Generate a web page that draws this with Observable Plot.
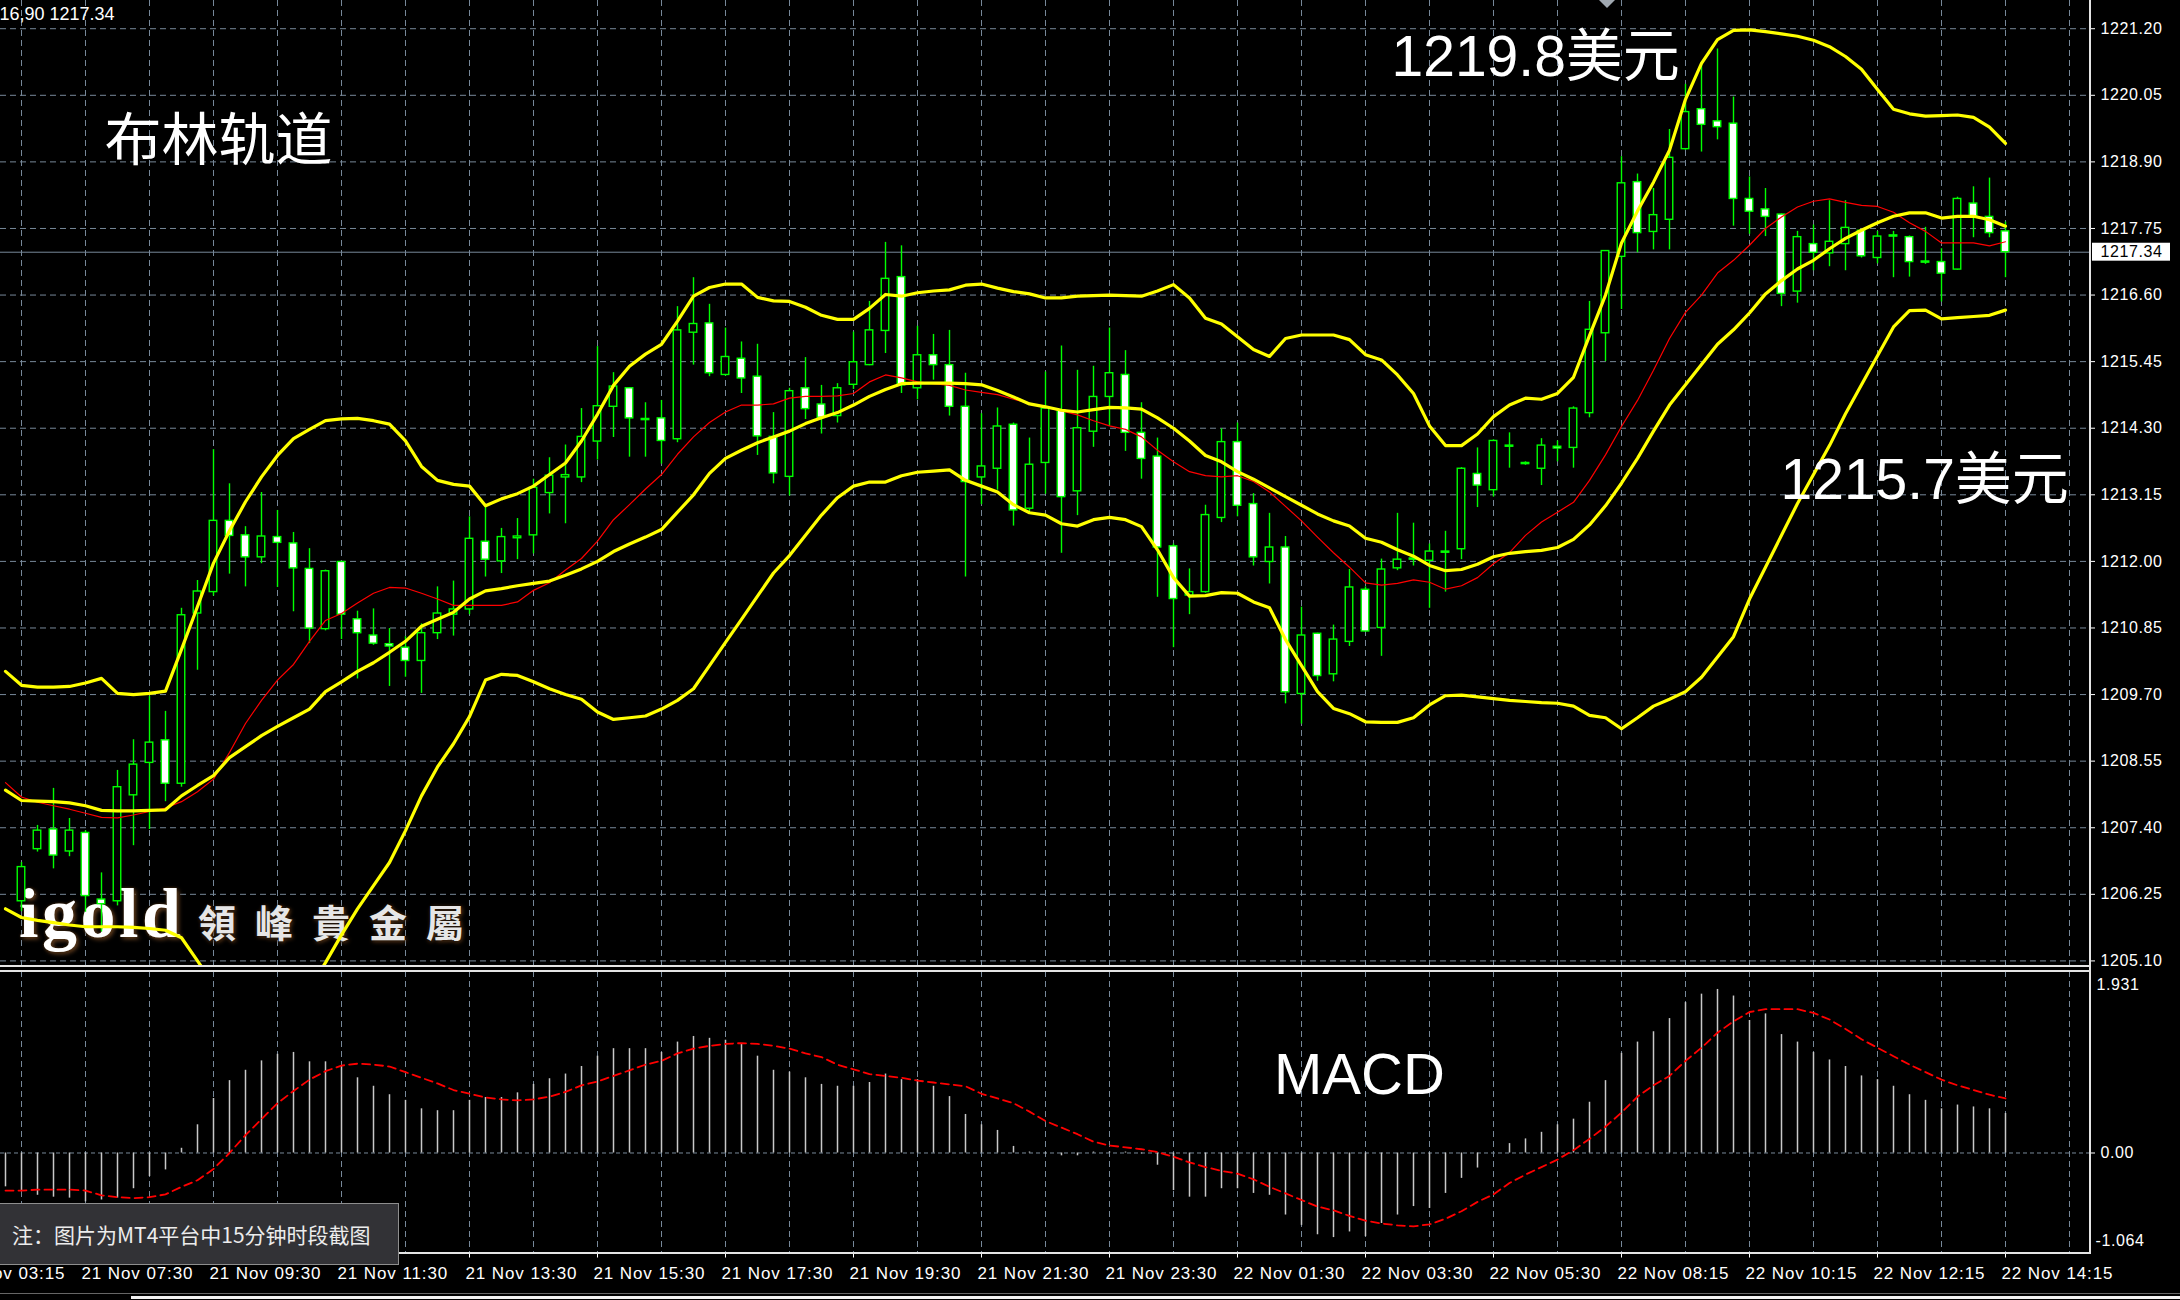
<!DOCTYPE html>
<html>
<head>
<meta charset="utf-8">
<script src="https://cdn.jsdelivr.net/npm/d3@7"></script>
<script src="https://cdn.jsdelivr.net/npm/@observablehq/plot@0.6"></script>
<style>
  html, body { margin: 0; padding: 0; background: #000; overflow: hidden; }
  #wrap { position: relative; width: 2180px; height: 1300px; background: #000; overflow: hidden; }
  #topgrid, #top, #bot { position: absolute; left: 0; }
  #topgrid, #top { top: 0; }
  #bot { top: 966px; }
  .ln { position: absolute; background: #e4e4e4; }
  #logo1 { position: absolute; left: 19px; top: 879px; font: bold 70px/70px "Liberation Serif", serif; letter-spacing: 3.5px; color: #fff;
           text-shadow: 0 0 3px #3a2208, 2px 2px 4px #6b4423; white-space: nowrap; }
  #logo2 { position: absolute; left: 198px; top: 902px; font: bold 38px/38px "Noto Sans CJK TC", sans-serif; letter-spacing: 19px; color: #e6e6e6;
           text-shadow: 0 0 3px #000, 1px 1px 4px #7a4a20; white-space: nowrap; }
  #note { position: absolute; left: 0; top: 1203px; width: 399px; height: 62px; box-sizing: border-box; background: #323236;
          border: 1px solid #8e8e8e; border-left: none; color: #ececec; font: 21px/60px "Noto Sans CJK SC", sans-serif;
          padding-left: 12px; white-space: nowrap; }
  #shift { position: absolute; left: 1599px; top: 0; width: 0; height: 0; border-left: 8px solid transparent; border-right: 8px solid transparent; border-top: 8px solid #a0a8b0; }
</style>
</head>
<body>
<div id="wrap">
  <div id="topgrid"></div>
  <div id="logo1">igold</div>
  <div id="logo2">領峰貴金屬</div>
  <div id="top"></div>
  <div id="bot"></div>
  <div class="ln" style="left:0;top:965px;width:2091px;height:2px"></div>
  <div class="ln" style="left:0;top:970px;width:2091px;height:2px"></div>
  <div class="ln" style="left:0;top:1252px;width:2091px;height:2px"></div>
  <div class="ln" style="left:2089px;top:0;width:2px;height:1254px"></div>
  <div class="ln" style="left:0;top:1293px;width:2180px;height:1px;background:#666"></div>
  <div class="ln" style="left:131px;top:1296px;width:2049px;height:3px;background:#f2f2f2"></div>
  <div id="shift"></div>
  <div id="note">注：图片为MT4平台中15分钟时段截图</div>
</div>
<script>
// ---------------- data (bar index 0 = first full candle, 15-minute bars) ----------------
const open = [
  1206.13,1207.03,1207.37,1206.99,1207.31,1206.16,1206.13,1207.96,1208.52,1208.91,
  1208.16,1211.10,1211.47,1212.70,1212.45,1212.07,1212.42,1212.31,1211.87,1210.83,
  1211.99,1211.00,1210.72,1210.57,1210.51,1210.28,1210.76,1211.08,1211.17,1212.34,
  1212.00,1212.40,1212.45,1213.18,1213.45,1213.45,1214.07,1214.67,1214.99,1214.46,
  1214.47,1214.11,1215.95,1216.11,1215.22,1215.50,1215.19,1214.15,1213.46,1214.99,
  1214.71,1214.51,1215.05,1215.39,1215.98,1216.91,1214.99,1215.56,1215.39,1214.67,
  1213.45,1213.60,1214.36,1212.91,1213.70,1214.61,1213.21,1214.24,1214.84,1215.22,
  1214.22,1213.81,1212.26,1211.41,1211.47,1212.75,1214.06,1212.99,1211.99,1212.24,
  1209.71,1210.75,1210.05,1210.61,1211.51,1210.85,1211.88,1212.05,1212.01,1212.17,
  1212.21,1213.51,1213.23,1213.98,1213.70,1213.60,1213.98,1213.96,1214.56,1215.94,
  1217.26,1218.55,1217.69,1217.90,1219.12,1219.81,1219.60,1219.56,1218.26,1218.08,
  1217.99,1216.66,1217.48,1217.32,1217.48,1217.71,1217.24,1217.63,1217.60,1217.18,
  1217.17,1217.04,1218.18,1217.95,1217.70
];
const high = [
  1206.80,1207.44,1208.08,1207.56,1207.35,1206.62,1208.39,1208.92,1209.67,1209.41,
  1211.19,1211.67,1213.93,1213.34,1212.60,1213.19,1212.88,1212.50,1212.22,1211.85,
  1212.00,1211.14,1211.18,1210.84,1210.70,1210.92,1211.56,1211.66,1212.77,1212.93,
  1212.57,1212.74,1213.42,1213.79,1214.01,1214.64,1215.71,1215.26,1215.00,1214.74,
  1214.78,1216.40,1216.90,1216.44,1216.03,1215.79,1215.75,1214.57,1214.99,1215.52,
  1215.04,1215.07,1215.96,1216.49,1217.51,1217.45,1216.06,1215.92,1215.99,1215.25,
  1214.55,1214.65,1214.39,1214.13,1215.27,1215.72,1215.30,1215.37,1216.03,1215.64,
  1214.74,1214.13,1212.30,1211.87,1212.97,1214.29,1214.39,1213.17,1212.83,1212.43,
  1211.21,1210.76,1210.90,1211.86,1211.56,1212.04,1212.83,1212.66,1212.30,1212.52,
  1213.62,1213.96,1214.10,1214.22,1213.72,1214.12,1214.08,1214.67,1216.49,1217.37,
  1218.99,1218.69,1218.44,1219.46,1220.24,1220.62,1220.85,1220.02,1218.64,1218.44,
  1218.00,1217.70,1217.81,1218.23,1218.23,1217.73,1217.70,1217.70,1217.62,1217.77,
  1217.40,1218.29,1218.47,1218.62,1217.86
];
const low = [
  1205.95,1206.98,1206.69,1206.90,1205.94,1205.60,1206.05,1207.09,1207.37,1207.85,
  1208.10,1210.12,1211.40,1211.78,1211.56,1211.96,1211.55,1211.13,1210.58,1210.80,
  1210.65,1209.97,1210.55,1209.84,1210.00,1209.72,1210.65,1210.71,1211.08,1211.73,
  1211.79,1212.03,1212.13,1212.82,1212.65,1213.36,1213.75,1214.14,1213.80,1213.80,
  1213.68,1214.05,1215.39,1215.19,1215.20,1214.90,1213.83,1213.34,1213.13,1214.45,
  1214.20,1214.39,1214.97,1215.38,1215.59,1214.90,1214.79,1215.13,1214.51,1211.73,
  1212.98,1213.23,1212.61,1212.85,1213.16,1212.14,1212.79,1213.97,1214.34,1213.90,
  1213.42,1211.38,1210.51,1211.08,1211.45,1212.67,1212.77,1211.92,1211.61,1209.54,
  1209.19,1209.93,1209.92,1210.53,1210.78,1210.36,1211.84,1211.92,1211.19,1211.47,
  1212.03,1212.93,1213.11,1213.61,1213.66,1213.31,1213.72,1213.61,1214.48,1215.45,
  1216.35,1217.33,1217.38,1217.38,1219.10,1219.07,1219.28,1217.79,1217.65,1217.61,
  1216.40,1216.46,1217.02,1217.09,1217.02,1217.24,1217.14,1216.90,1216.91,1217.13,
  1216.48,1217.03,1217.59,1217.59,1216.90
];
const close = [
  1206.72,1207.35,1206.92,1207.35,1206.22,1206.08,1208.10,1208.49,1208.87,1208.16,
  1211.07,1211.48,1212.70,1212.44,1212.07,1212.43,1212.32,1211.88,1210.84,1211.83,
  1211.08,1210.76,1210.58,1210.53,1210.28,1210.76,1211.10,1211.17,1212.39,1212.03,
  1212.42,1212.43,1213.27,1213.48,1213.49,1214.15,1214.68,1215.02,1214.47,1214.44,
  1214.08,1215.99,1216.10,1215.25,1215.53,1215.16,1214.16,1213.52,1214.94,1214.63,
  1214.48,1214.99,1215.44,1215.99,1216.88,1215.04,1215.56,1215.39,1214.67,1213.37,
  1213.64,1214.33,1212.88,1213.67,1214.64,1213.11,1214.30,1214.84,1215.25,1214.22,
  1213.77,1212.24,1211.35,1211.47,1212.80,1214.06,1212.96,1212.07,1212.24,1209.74,
  1210.72,1210.02,1210.65,1211.55,1210.79,1211.86,1212.03,1212.03,1212.17,1212.15,
  1213.60,1213.31,1214.08,1214.00,1213.68,1214.00,1213.95,1214.64,1216.00,1217.36,
  1218.53,1217.67,1217.98,1218.97,1219.76,1219.54,1219.50,1218.26,1218.04,1217.95,
  1216.62,1217.60,1217.33,1217.52,1217.76,1217.27,1217.61,1217.61,1217.17,1217.16,
  1216.97,1218.26,1217.95,1217.67,1217.34
];

// indicator series start one bar earlier (bar -1)
const indicatorStart = -1;
const upperBand = [
  1210.10,1209.86,1209.83,1209.83,1209.84,1209.90,1209.98,1209.72,1209.70,1209.72,
  1209.76,1210.48,1211.22,1211.97,1212.53,1213.03,1213.46,1213.83,1214.12,1214.28,
  1214.43,1214.46,1214.47,1214.43,1214.37,1214.08,1213.64,1213.40,1213.33,1213.30,
  1212.96,1213.08,1213.17,1213.30,1213.50,1213.70,1214.08,1214.54,1215.04,1215.37,
  1215.58,1215.75,1216.15,1216.58,1216.73,1216.79,1216.79,1216.56,1216.50,1216.49,
  1216.39,1216.25,1216.18,1216.18,1216.37,1216.61,1216.58,1216.64,1216.67,1216.69,
  1216.77,1216.79,1216.72,1216.66,1216.62,1216.55,1216.55,1216.58,1216.59,1216.60,
  1216.59,1216.58,1216.67,1216.78,1216.55,1216.20,1216.10,1215.88,1215.66,1215.54,
  1215.85,1215.91,1215.91,1215.91,1215.83,1215.57,1215.48,1215.22,1214.90,1214.34,
  1214.00,1214.00,1214.20,1214.50,1214.70,1214.82,1214.80,1214.90,1215.18,1215.90,
  1216.60,1217.50,1218.05,1218.55,1219.10,1219.98,1220.60,1221.01,1221.17,1221.18,
  1221.15,1221.11,1221.07,1221.00,1220.89,1220.72,1220.50,1220.15,1219.81,1219.73,
  1219.69,1219.70,1219.71,1219.67,1219.50,1219.22
];
const middleBand = [
  1208.05,1207.87,1207.86,1207.85,1207.83,1207.78,1207.70,1207.69,1207.69,1207.70,
  1207.71,1207.95,1208.13,1208.30,1208.61,1208.80,1208.99,1209.15,1209.30,1209.45,
  1209.75,1209.92,1210.10,1210.25,1210.43,1210.62,1210.88,1211.00,1211.12,1211.35,
  1211.49,1211.53,1211.58,1211.62,1211.66,1211.76,1211.87,1212.00,1212.17,1212.30,
  1212.42,1212.55,1212.85,1213.15,1213.52,1213.78,1213.92,1214.05,1214.15,1214.25,
  1214.38,1214.48,1214.57,1214.70,1214.85,1214.97,1215.07,1215.08,1215.08,1215.08,
  1215.07,1215.05,1214.95,1214.84,1214.72,1214.67,1214.61,1214.58,1214.62,1214.66,
  1214.65,1214.63,1214.48,1214.30,1214.08,1213.83,1213.72,1213.55,1213.42,1213.27,
  1213.12,1212.97,1212.82,1212.70,1212.61,1212.40,1212.33,1212.20,1212.09,1211.93,
  1211.84,1211.86,1211.95,1212.08,1212.14,1212.17,1212.19,1212.24,1212.38,1212.63,
  1212.96,1213.35,1213.78,1214.25,1214.70,1215.05,1215.40,1215.75,1216.00,1216.29,
  1216.62,1216.85,1217.05,1217.20,1217.40,1217.58,1217.72,1217.85,1217.96,1218.02,
  1218.02,1217.93,1217.96,1217.96,1217.90,1217.79
];
const lowerBand = [
  1206.00,1205.85,1205.80,1205.76,1205.72,1205.69,1205.69,1205.69,1205.68,1205.66,
  1205.63,1205.50,1205.10,1204.70,1204.65,1204.57,1204.52,1204.47,1204.48,1204.62,
  1205.07,1205.55,1206.00,1206.40,1206.80,1207.35,1207.95,1208.45,1208.85,1209.32,
  1209.95,1210.05,1210.03,1209.92,1209.80,1209.70,1209.62,1209.40,1209.27,1209.30,
  1209.33,1209.45,1209.60,1209.80,1210.20,1210.60,1211.00,1211.40,1211.80,1212.10,
  1212.45,1212.80,1213.10,1213.30,1213.37,1213.37,1213.48,1213.54,1213.56,1213.58,
  1213.40,1213.30,1213.20,1212.98,1212.84,1212.80,1212.65,1212.61,1212.72,1212.76,
  1212.72,1212.60,1212.20,1211.72,1211.40,1211.41,1211.46,1211.45,1211.30,1211.20,
  1210.65,1210.20,1209.75,1209.46,1209.37,1209.23,1209.22,1209.22,1209.30,1209.52,
  1209.68,1209.69,1209.66,1209.63,1209.60,1209.58,1209.56,1209.55,1209.50,1209.34,
  1209.30,1209.11,1209.30,1209.50,1209.62,1209.75,1210.00,1210.35,1210.70,1211.35,
  1211.90,1212.45,1213.00,1213.50,1214.00,1214.55,1215.05,1215.55,1216.05,1216.33,
  1216.34,1216.19,1216.21,1216.23,1216.25,1216.34
];
const maLine = [
  1208.18,1207.93,1207.84,1207.78,1207.72,1207.65,1207.58,1207.57,1207.62,1207.68,
  1207.74,1207.85,1208.02,1208.24,1208.70,1209.20,1209.60,1209.95,1210.22,1210.62,
  1210.98,1211.10,1211.28,1211.45,1211.55,1211.54,1211.45,1211.35,1211.24,1211.24,
  1211.24,1211.24,1211.30,1211.50,1211.63,1211.85,1212.05,1212.35,1212.72,1212.98,
  1213.25,1213.50,1213.85,1214.15,1214.40,1214.58,1214.70,1214.70,1214.72,1214.82,
  1214.85,1214.85,1214.86,1214.90,1215.10,1215.22,1215.17,1215.10,1215.07,1215.04,
  1214.96,1214.92,1214.88,1214.80,1214.73,1214.66,1214.60,1214.53,1214.43,1214.34,
  1214.28,1214.15,1213.92,1213.72,1213.55,1213.48,1213.46,1213.48,1213.38,1213.20,
  1212.95,1212.70,1212.42,1212.15,1211.90,1211.63,1211.59,1211.62,1211.68,1211.64,
  1211.52,1211.58,1211.72,1211.96,1212.15,1212.45,1212.68,1212.85,1213.02,1213.40,
  1213.84,1214.33,1214.78,1215.30,1215.85,1216.30,1216.60,1216.98,1217.20,1217.46,
  1217.75,1217.95,1218.12,1218.22,1218.26,1218.20,1218.15,1218.13,1218.03,1217.85,
  1217.70,1217.50,1217.50,1217.50,1217.45,1217.52
];
const macdHist = [
  -0.36,-0.41,-0.45,-0.47,-0.48,-0.52,-0.50,-0.48,-0.38,-0.25,
  -0.18, 0.05, 0.30, 0.58, 0.77, 0.88, 0.98, 1.05, 1.07, 0.97,
   0.97, 0.92, 0.80, 0.71, 0.62, 0.56, 0.47, 0.45, 0.45, 0.56,
   0.59, 0.59, 0.64, 0.73, 0.79, 0.84, 0.92, 1.03, 1.11, 1.11,
   1.11, 1.07, 1.18, 1.24, 1.22, 1.20, 1.16, 1.03, 0.88, 0.86,
   0.80, 0.73, 0.71, 0.71, 0.75, 0.84, 0.78, 0.78, 0.71, 0.60,
   0.41, 0.30, 0.24, 0.07, 0.01,-0.01,-0.03,-0.03, 0.01, 0.01,
   0.01,-0.01,-0.13,-0.40,-0.47,-0.47,-0.38,-0.38,-0.43,-0.45,
  -0.66,-0.77,-0.87,-0.90,-0.84,-0.89,-0.75,-0.66,-0.57,-0.59,
  -0.43,-0.27,-0.16, 0.00, 0.10, 0.15, 0.22, 0.30, 0.36, 0.54,
   0.77, 1.06, 1.18, 1.29, 1.43, 1.60, 1.69, 1.74, 1.67, 1.41,
   1.48, 1.26, 1.18, 1.07, 0.99, 0.92, 0.82, 0.78, 0.71, 0.62,
   0.56, 0.47, 0.51, 0.49, 0.47, 0.42
];
const macdSignal = [
  -0.40,-0.40,-0.39,-0.39,-0.39,-0.40,-0.45,-0.47,-0.48,-0.47,
  -0.44,-0.36,-0.29,-0.17, 0.00, 0.19, 0.36, 0.53, 0.66, 0.78,
   0.87, 0.93, 0.95, 0.94, 0.92, 0.86, 0.80, 0.74, 0.67, 0.63,
   0.59, 0.57, 0.56, 0.57, 0.60, 0.65, 0.72, 0.76, 0.82, 0.88,
   0.94, 0.98, 1.06, 1.11, 1.14, 1.16, 1.17, 1.16, 1.14, 1.11,
   1.06, 1.02, 0.94, 0.89, 0.84, 0.82, 0.80, 0.77, 0.75, 0.73,
   0.71, 0.63, 0.58, 0.53, 0.44, 0.34, 0.27, 0.20, 0.12, 0.08,
   0.06, 0.04, 0.01,-0.04,-0.10,-0.15,-0.19,-0.22,-0.28,-0.36,
  -0.43,-0.50,-0.57,-0.61,-0.67,-0.72,-0.75,-0.77,-0.78,-0.76,
  -0.70,-0.62,-0.52,-0.44,-0.32,-0.23,-0.15,-0.07, 0.03, 0.15,
   0.28, 0.43, 0.60, 0.72, 0.82, 0.98, 1.12, 1.28, 1.40, 1.50,
   1.53, 1.53, 1.53, 1.49, 1.42, 1.32, 1.21, 1.12, 1.03, 0.94,
   0.86, 0.78, 0.72, 0.67, 0.62, 0.58
];

const priceTicks = [1205.10,1206.25,1207.40,1208.55,1209.70,1210.85,1212.00,1213.15,1214.30,1215.45,1216.60,1217.75,1218.90,1220.05,1221.20];
const macdMax = 1.931, macdMin = -1.064;
const timeTickBars = [-4,4,12,20,28,36,44,52,60,68,76,84,92,100,108,116,124];
const timeLabels = ["21 Nov 03:15","21 Nov 07:30","21 Nov 09:30","21 Nov 11:30","21 Nov 13:30","21 Nov 15:30","21 Nov 17:30","21 Nov 19:30","21 Nov 21:30","21 Nov 23:30","22 Nov 01:30","22 Nov 03:30","22 Nov 05:30","22 Nov 08:15","22 Nov 10:15","22 Nov 12:15","22 Nov 14:15"];
const headerText = "16,90 1217.34";
const titleText = "布林轨道";
const highNote = "1219.8美元";
const lowNote = "1215.7美元";
const macdText = "MACD";

// ---------------- scales / styling ----------------
const FONT = "'Liberation Sans', Arial, 'Noto Sans CJK SC', sans-serif";
const GRID = "#778899";
const xDomain = [-21 / 16, (2090 - 21) / 16];
const priceDomain = [1205.0034, 1221.6873];
const gridBars = d3.range(0, 129, 4);
const lastClose = close[close.length - 1];

const candles = open.map((o, k) => ({i: k, o, h: high[k], l: low[k], c: close[k]}));
const series = arr => arr.map((v, k) => ({i: k + indicatorStart, v}));

const topFrame = {
  width: 2180, height: 980,
  marginTop: 0, marginBottom: 14, marginLeft: 0, marginRight: 90,
  x: {domain: xDomain, axis: null},
  y: {domain: priceDomain, axis: null},
  color: {type: "identity"},
  style: {background: "transparent", color: "white", fontFamily: FONT, fontSize: "16px"}
};

// grid layer (under the watermark)
const gridPlot = Plot.plot({
  ...topFrame,
  marks: [
    Plot.ruleY(priceTicks, {stroke: GRID, strokeDasharray: "6,4", strokeWidth: 1}),
    Plot.ruleX(gridBars, {stroke: GRID, strokeDasharray: "6,4", strokeWidth: 1}),
    Plot.ruleY([lastClose], {stroke: GRID, strokeWidth: 1})
  ]
});

// price layer
const topPlot = Plot.plot({
  ...topFrame,
  marks: [
    Plot.ruleX(candles, {x: "i", y1: "l", y2: "h", stroke: "#00ff00", strokeWidth: 1.4}),
    Plot.rect(candles, {
      x1: d => d.i - 0.235, x2: d => d.i + 0.235, y1: "o", y2: "c",
      fill: d => (d.c < d.o ? "#ffffff" : "#000000"), stroke: "#00ff00", strokeWidth: 1.4
    }),
    Plot.line(series(maLine), {x: "i", y: "v", stroke: "#ff0000", strokeWidth: 1.2, clip: true}),
    Plot.line(series(upperBand), {x: "i", y: "v", stroke: "#ffff00", strokeWidth: 3.2, clip: true}),
    Plot.line(series(middleBand), {x: "i", y: "v", stroke: "#ffff00", strokeWidth: 3.2, clip: true}),
    Plot.line(series(lowerBand), {x: "i", y: "v", stroke: "#ffff00", strokeWidth: 3.2, clip: true}),
    Plot.axisY(priceTicks, {anchor: "right", label: null, tickSize: 4, tickPadding: 6, tickFormat: d => d.toFixed(2)}),
    Plot.rect([lastClose], {x1: () => xDomain[1], x2: () => xDomain[1] + 5, y1: d => d - 0.155, y2: d => d + 0.155, insetLeft: 2, fill: "#ffffff"}),
    Plot.text([lastClose], {x: () => xDomain[1], y: d => d, text: d => d.toFixed(2), textAnchor: "start", dx: 10, fill: "#000000"}),
    Plot.text([headerText], {frameAnchor: "top-left", text: d => d, textAnchor: "start", lineAnchor: "top", dx: -1, dy: 7, fontSize: 18, fill: "#ffffff"}),
    Plot.text([titleText], {frameAnchor: "top-left", text: d => d, textAnchor: "start", lineAnchor: "bottom", dx: 104, dy: 159, fontSize: 57, fontFamily: "'Noto Sans CJK SC', sans-serif", fill: "#ffffff"}),
    Plot.text([highNote], {frameAnchor: "top-left", text: d => d, textAnchor: "start", lineAnchor: "bottom", dx: 1391, dy: 75, fontSize: 57, fill: "#ffffff"}),
    Plot.text([lowNote], {frameAnchor: "top-left", text: d => d, textAnchor: "start", lineAnchor: "bottom", dx: 1780, dy: 498, fontSize: 57, fill: "#ffffff"})
  ]
});

const botPlot = Plot.plot({
  width: 2180, height: 334,
  marginTop: 5, marginBottom: 47.5, marginLeft: 0, marginRight: 90,
  x: {domain: xDomain, axis: null, label: null},
  y: {domain: [macdMin, macdMax], axis: null, label: null},
  style: {background: "transparent", color: "white", fontFamily: FONT, fontSize: "16px"},
  marks: [
    Plot.ruleX(gridBars, {stroke: GRID, strokeDasharray: "6,4", strokeWidth: 1}),
    Plot.ruleY([0], {stroke: GRID, strokeDasharray: "4,3", strokeWidth: 1}),
    Plot.ruleX(series(macdHist), {x: "i", y1: 0, y2: "v", stroke: "#c8c8c8", strokeWidth: 1.5}),
    Plot.line(series(macdSignal), {x: "i", y: "v", stroke: "#ff0000", strokeWidth: 1.8, strokeDasharray: "8,5", clip: true}),
    Plot.axisY([0], {anchor: "right", label: null, tickSize: 4, tickPadding: 6, tickFormat: d => d.toFixed(2)}),
    Plot.text([macdMax], {frameAnchor: "right", y: d => d, text: d => d.toFixed(3), textAnchor: "start", lineAnchor: "top", dx: 6, dy: 7, fill: "#ffffff"}),
    Plot.text([macdMin], {frameAnchor: "right", y: d => d, text: d => d.toFixed(3), textAnchor: "start", lineAnchor: "bottom", dx: 5, dy: -7.5, fill: "#ffffff"}),
    Plot.axisX(timeTickBars, {anchor: "bottom", label: null, tickSize: 5, tickFormat: () => ""}),
    Plot.text(timeTickBars, {x: d => d, text: (d, k) => timeLabels[k], frameAnchor: "bottom", textAnchor: "start", lineAnchor: "top", dx: -4, dy: 13.5, fontSize: 17, fill: "#ffffff"}),
    Plot.text([macdText], {frameAnchor: "top-left", text: d => d, textAnchor: "start", lineAnchor: "bottom", dx: 1273.5, dy: 122.3, fontSize: 58, fill: "#ffffff"})
  ]
});

document.getElementById("topgrid").append(gridPlot);
document.getElementById("top").append(topPlot);
document.getElementById("bot").append(botPlot);

// MT4-style letter spacing on the small axis texts (matched by their content)
const priceStrings = new Set(priceTicks.map(d => d.toFixed(2)).concat([lastClose.toFixed(2)]));
const macdStrings = new Set([macdMax.toFixed(3), macdMin.toFixed(3), "0.00"]);
const timeStrings = new Set(timeLabels);
function spaceTexts(svg, set, px) {
  svg.querySelectorAll("text").forEach(t => {
    if (set.has(t.textContent.trim())) {
      t.setAttribute("letter-spacing", px);
      t.style.letterSpacing = px;
      t.querySelectorAll("tspan").forEach(s => { s.setAttribute("letter-spacing", px); s.style.letterSpacing = px; });
    }
  });
}
spaceTexts(topPlot, priceStrings, "0.6px");
spaceTexts(botPlot, macdStrings, "0.6px");
spaceTexts(botPlot, timeStrings, "0.9px");
</script>
</body>
</html>
